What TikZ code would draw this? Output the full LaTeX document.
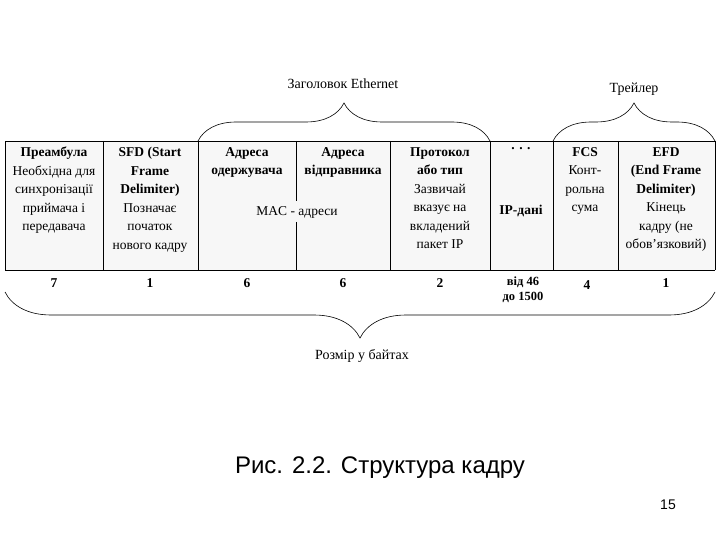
\documentclass[tikz,border=0pt]{standalone}
\usepackage{fontspec}
\setmainfont{Liberation Serif}
\newfontfamily\capfont{Liberation Sans}
\usetikzlibrary{decorations.pathreplacing}
\begin{document}
\begin{tikzpicture}[x=1pt,y=-1pt,
  cell/.style={align=center,font=\fontsize{13.5}{18.5}\selectfont,anchor=north,inner sep=1pt},
  num/.style={font=\fontsize{13.5}{15}\selectfont\bfseries},
  br/.style={decorate,decoration={brace,amplitude=38pt,aspect=0.5},line width=0.6pt},
  lbl/.style={font=\fontsize{14}{16}\selectfont}]
\useasboundingbox (0,0) rectangle (720,540);
\fill[gray!6] (5,141) rectangle (715,270);
\draw[line width=0.8pt] (5,270) -- (5,141) -- (715,141) -- (715,270);
\draw[line width=0.8pt] (5,270) -- (715,270);
\foreach \x in {103,198,390,490,553,618} \draw[line width=0.8pt] (\x,141) -- (\x,270);
\draw[line width=0.8pt] (296,141) -- (296,201) (296,222) -- (296,270);
\node[cell] (c1) at (54,146) {\textbf{Преамбула}\\Необхідна для\\синхронізації\\приймача і\\передавача};
\node[cell] (c2) at (150,146) {\textbf{SFD (Start}\\\textbf{Frame}\\\textbf{Delimiter)}\\Позначає\\початок\\нового кадру};
\node[cell] (c3) at (247,146) {\textbf{Адреса}\\\textbf{одержувача}};
\node[cell] (c4) at (343,146) {\textbf{Адреса}\\\textbf{відправника}};
\node[font=\fontsize{13.5}{15}\selectfont,fill=gray!6,inner sep=1pt] (mac) at (297,212) {MAC - адреси};
\node[cell] (c5) at (440,146) {\textbf{Протокол}\\\textbf{або тип}\\Зазвичай\\вказує на\\вкладений\\пакет IP};
\node[cell] (c6) at (521,146) {\textbf{. . .}};
\node[num] (ip) at (521,211) {IP-дані};
\node[cell] (c7) at (585,146) {\textbf{FCS}\\Конт-\\рольна\\сума};
\node[cell] (c8) at (666,146) {\textbf{EFD}\\\textbf{(End Frame}\\\textbf{Delimiter)}\\Кінець\\кадру (не\\обов'язковий)};
\node[num] (n1) at (54,283) {7};
\node[num] (n2) at (150,283) {1};
\node[num] (n3) at (247,283) {6};
\node[num] (n4) at (343,283) {6};
\node[num] (n5) at (440,283) {2};
\node[num,align=center,font=\fontsize{12.5}{15}\selectfont\bfseries] (n6) at (523,290) {від 46\\до 1500};
\node[num] (n7) at (587,285) {4};
\node[num] (n8) at (666,283) {1};
\coordinate (hb1) at (198,141); \coordinate (hb2) at (490,141);
\coordinate (tb1) at (553,141); \coordinate (tb2) at (715,141);
\coordinate (bb1) at (715,292); \coordinate (bb2) at (5,292);
\draw[br] (hb1) -- (hb2);
\draw[br] (tb1) -- (tb2);
\draw[br,decoration={amplitude=46pt}] (bb1) -- (bb2);
\node[lbl] (hl) at (343,84) {Заголовок Ethernet};
\node[lbl] (tl) at (634,89) {Трейлер};
\node[lbl] (bl) at (362,356) {Розмір у байтах};
\node[font=\capfont\fontsize{24}{28}\selectfont] (cap) at (380,468) {Рис. 2.2. Структура кадру};
\node[font=\capfont\fontsize{14}{16}\selectfont] (pg) at (668,505) {15};
\end{tikzpicture}
\end{document}
